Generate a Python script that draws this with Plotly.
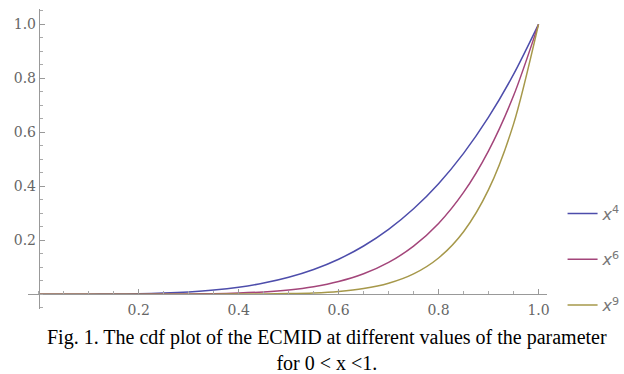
import plotly.graph_objects as go

x_vals = [0.0, 0.05, 0.1, 0.15, 0.2, 0.25, 0.3, 0.35, 0.4, 0.45, 0.5,
          0.55, 0.6, 0.65, 0.7, 0.75, 0.8, 0.85, 0.9, 0.95, 1.0]
y_x4 = [0.0, 0.0, 0.0001, 0.0005, 0.0016, 0.0039, 0.0081, 0.0150, 0.0256, 0.0410, 0.0625,
        0.0915, 0.1296, 0.1785, 0.2401, 0.3164, 0.4096, 0.5220, 0.6561, 0.8145, 1.0]
y_x6 = [0.0, 0.0, 0.0, 0.0, 0.0001, 0.0002, 0.0007, 0.0018, 0.0041, 0.0083, 0.0156,
        0.0277, 0.0467, 0.0754, 0.1176, 0.1780, 0.2621, 0.3771, 0.5314, 0.7351, 1.0]
y_x9 = [0.0, 0.0, 0.0, 0.0, 0.0, 0.0, 0.0, 0.0001, 0.0003, 0.0008, 0.0020,
        0.0046, 0.0101, 0.0207, 0.0404, 0.0751, 0.1342, 0.2316, 0.3874, 0.6302, 1.0]
series_names = ["<i>x</i><sup>4</sup>", "<i>x</i><sup>6</sup>", "<i>x</i><sup>9</sup>"]
series_colors = ["#4d4dab", "#a3457a", "#a6984a"]
tick_vals = [0.2, 0.4, 0.6, 0.8, 1.0]
tick_text = ["0.2", "0.4", "0.6", "0.8", "1.0"]
caption = "Fig. 1. The cdf plot of the ECMID at different values of the parameter<br>for 0 &lt; x &lt;1."

x_range = [-0.0216, 1.017]
y_range = [-0.055, 1.057]

fig = go.Figure()
for name, ys, col in zip(series_names, [y_x4, y_x6, y_x9], series_colors):
    fig.add_trace(go.Scatter(x=x_vals, y=ys, mode="lines", name=name, legendgroup=name,
                             line=dict(color=col, width=1.5, shape="spline", smoothing=0.8)))

tick_font = dict(family="DejaVu Serif", size=14, color="#666666")
fig.update_layout(
    width=624, height=374,
    margin=dict(l=28, r=77, t=9, b=65, autoexpand=False),
    paper_bgcolor="white", plot_bgcolor="white",
    showlegend=True,
    legend=dict(x=1.03, xanchor="left", y=0.375, yanchor="top",
                font=dict(family="DejaVu Sans", size=16, color="#777777"),
                tracegroupgap=22, bgcolor="rgba(0,0,0,0)"),
    xaxis=dict(range=x_range, anchor="free", automargin=False,
               position=(0 - y_range[0]) / (y_range[1] - y_range[0]),
               showgrid=False, zeroline=False, showline=True, linecolor="#999999", linewidth=1,
               tickmode="array", tickvals=tick_vals, ticktext=tick_text,
               ticks="inside", ticklen=5, tickcolor="#999999", tickfont=tick_font,
               ticklabelstandoff=3,
               minor=dict(dtick=0.05, tick0=0, ticks="inside", ticklen=3, tickcolor="#aaaaaa")),
    yaxis=dict(range=y_range, anchor="free", automargin=False,
               position=(0 - x_range[0]) / (x_range[1] - x_range[0]),
               showgrid=False, zeroline=False, showline=True, linecolor="#999999", linewidth=1,
               tickmode="array", tickvals=tick_vals, ticktext=tick_text,
               ticks="inside", ticklen=5, tickcolor="#999999", tickfont=tick_font,
               minor=dict(dtick=0.05, tick0=0, ticks="inside", ticklen=3, tickcolor="#aaaaaa")),
    annotations=[dict(text=caption, xref="paper", yref="paper",
                      x=(327 - 28) / 519, y=-0.05, xanchor="center", yanchor="top",
                      showarrow=False, align="center",
                      font=dict(family="Liberation Serif", size=20, color="black"))],
)

fig.write_html("out.html", config={"displayModeBar": False},
               post_script="document.body.style.margin='0';")
